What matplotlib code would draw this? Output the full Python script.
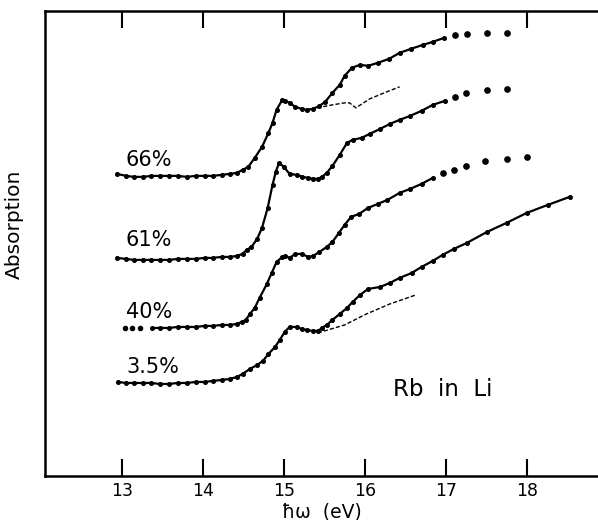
import matplotlib
matplotlib.use('Agg')
import matplotlib.pyplot as plt

# photon energy (eV) and absorption (arb. units)
x66 = [12.94, 13.05, 13.15, 13.26, 13.36, 13.47, 13.58, 13.69, 13.80, 13.91, 14.02, 14.12, 14.23, 14.33, 14.42,
       14.49, 14.56, 14.64, 14.73, 14.81, 14.86, 14.91, 14.98, 15.02, 15.07, 15.14, 15.22, 15.28, 15.36, 15.44,
       15.51, 15.60, 15.69, 15.75, 15.84, 15.94, 16.04, 16.16, 16.30, 16.43, 16.57, 16.72, 16.84, 16.98]
y66 = [3.02, 3.00, 2.99, 2.99, 3.00, 3.00, 3.00, 3.00, 2.99, 3.00, 3.00, 3.00, 3.01, 3.02, 3.03,
       3.06, 3.09, 3.18, 3.29, 3.43, 3.53, 3.66, 3.76, 3.75, 3.73, 3.69, 3.67, 3.66, 3.67, 3.70,
       3.74, 3.83, 3.91, 4.00, 4.08, 4.11, 4.10, 4.13, 4.17, 4.23, 4.27, 4.31, 4.34, 4.38]
x66_dots = [17.11, 17.26, 17.51, 17.75]
y66_dots = [4.41, 4.42, 4.43, 4.43]
x66_dash = [15.41, 15.60, 15.75, 15.81, 15.89, 16.06, 16.27, 16.43]
y66_dash = [3.68, 3.71, 3.73, 3.73, 3.68, 3.77, 3.84, 3.89]

x61 = [12.94, 13.05, 13.15, 13.26, 13.36, 13.47, 13.58, 13.69, 13.80, 13.91, 14.02, 14.12, 14.23, 14.33, 14.42,
       14.49, 14.54, 14.60, 14.67, 14.73, 14.80, 14.86, 14.90, 14.94, 15.00, 15.07, 15.16, 15.23, 15.30, 15.36,
       15.42, 15.47, 15.53, 15.60, 15.69, 15.78, 15.85, 15.96, 16.06, 16.19, 16.31, 16.43, 16.56, 16.70, 16.84, 16.99]
y61 = [2.18, 2.17, 2.16, 2.16, 2.16, 2.16, 2.16, 2.17, 2.17, 2.17, 2.18, 2.18, 2.19, 2.19, 2.20,
       2.22, 2.26, 2.29, 2.37, 2.48, 2.68, 2.91, 3.04, 3.13, 3.09, 3.02, 3.01, 2.99, 2.98, 2.97,
       2.97, 2.99, 3.03, 3.10, 3.21, 3.33, 3.36, 3.38, 3.42, 3.47, 3.52, 3.56, 3.60, 3.65, 3.71, 3.75]
x61_dots = [17.11, 17.25, 17.51, 17.75]
y61_dots = [3.79, 3.83, 3.86, 3.87]

x40_start = [13.04, 13.12, 13.22]
y40_start = [1.48, 1.48, 1.48]
x40 = [13.37, 13.47, 13.58, 13.69, 13.80, 13.91, 14.02, 14.12, 14.23, 14.33, 14.42, 14.48, 14.53, 14.58, 14.64,
       14.70, 14.79, 14.85, 14.91, 14.98, 15.02, 15.07, 15.14, 15.22, 15.30, 15.36, 15.44, 15.53, 15.60, 15.68,
       15.75, 15.83, 15.93, 16.04, 16.16, 16.28, 16.43, 16.56, 16.70, 16.84]
y40 = [1.48, 1.48, 1.48, 1.49, 1.49, 1.49, 1.50, 1.50, 1.51, 1.51, 1.52, 1.54, 1.56, 1.62, 1.68,
       1.78, 1.92, 2.03, 2.14, 2.19, 2.20, 2.18, 2.22, 2.22, 2.19, 2.20, 2.24, 2.29, 2.34, 2.43,
       2.51, 2.59, 2.62, 2.68, 2.72, 2.76, 2.83, 2.87, 2.92, 2.98]
x40_dots = [16.96, 17.10, 17.25, 17.49, 17.75, 18.00]
y40_dots = [3.03, 3.06, 3.10, 3.15, 3.17, 3.19]

x35 = [12.95, 13.05, 13.15, 13.26, 13.36, 13.47, 13.58, 13.69, 13.80, 13.91, 14.02, 14.12, 14.23, 14.33, 14.42,
       14.49, 14.58, 14.67, 14.74, 14.81, 14.89, 14.95, 15.01, 15.07, 15.16, 15.22, 15.28, 15.36, 15.42, 15.47,
       15.53, 15.60, 15.69, 15.78, 15.85, 15.94, 16.04, 16.19, 16.31, 16.43, 16.58, 16.70, 16.84, 16.96, 17.10,
       17.26, 17.51, 17.75, 18.00, 18.26, 18.53]
y35 = [0.94, 0.93, 0.93, 0.93, 0.93, 0.92, 0.92, 0.93, 0.93, 0.94, 0.94, 0.95, 0.96, 0.97, 0.99,
       1.02, 1.07, 1.11, 1.15, 1.22, 1.29, 1.36, 1.44, 1.49, 1.49, 1.47, 1.46, 1.45, 1.45, 1.48,
       1.51, 1.56, 1.62, 1.68, 1.74, 1.81, 1.87, 1.89, 1.93, 1.98, 2.03, 2.09, 2.15, 2.21, 2.27,
       2.33, 2.44, 2.53, 2.63, 2.71, 2.79]
x35_dash = [15.42, 15.75, 16.02, 16.31, 16.63]
y35_dash = [1.43, 1.51, 1.62, 1.72, 1.81]

labels = ['66%', '61%', '40%', '3.5%']
label_pos = [(13.05, 3.16), (13.05, 2.36), (13.05, 1.64), (13.05, 1.09)]
xticks = [13, 14, 15, 16, 17, 18]

plt.rcParams['font.family'] = ['DejaVu Sans']
fig = plt.figure(figsize=(5.98, 5.2), dpi=100)
ax = fig.add_axes([0.0753, 0.0846, 0.9247, 0.8946])

line_kw = dict(color='k', lw=1.6, marker='o', ms=2.6, mfc='k', mec='k')
dot_kw = dict(color='k', ls='none', marker='o', ms=3.8)
dash_kw = dict(color='k', lw=1.0, ls=(0, (3, 1.5)))

ax.plot(x66, y66, **line_kw)
ax.plot(x66_dots, y66_dots, **dot_kw)
ax.plot(x66_dash, y66_dash, **dash_kw)
ax.plot(x61, y61, **line_kw)
ax.plot(x61_dots, y61_dots, **dot_kw)
ax.plot(x40_start, y40_start, color='k', ls='none', marker='o', ms=3)
ax.plot(x40, y40, **line_kw)
ax.plot(x40_dots, y40_dots, **dot_kw)
ax.plot(x35, y35, **line_kw)
ax.plot(x35_dash, y35_dash, **dash_kw)

for lab, (lx, ly) in zip(labels, label_pos):
    ax.text(lx, ly, lab, fontsize=15, ha='left', va='center')
ax.text(16.35, 0.86, 'Rb  in  Li', fontsize=16.5, ha='left', va='center')

ax.set_xlim(12.05, 18.88)
ax.set_ylim(0, 4.65)
ax.set_xticks(xticks)
ax.set_xticklabels([str(t) for t in xticks])
ax.set_yticks([])
ax.tick_params(axis='x', direction='in', length=12, width=1.5, top=True, labelsize=12.5, pad=4)
for s in ['left', 'bottom', 'top']:
    ax.spines[s].set_linewidth(1.8)
ax.spines['right'].set_visible(False)

ax.set_xlabel('ħω  (eV)', fontsize=13.5, labelpad=2)
ax.set_ylabel('Absorption', fontsize=14.5)
ax.yaxis.set_label_coords(-0.038, 0.54)

plt.savefig('out.png', dpi=100)
